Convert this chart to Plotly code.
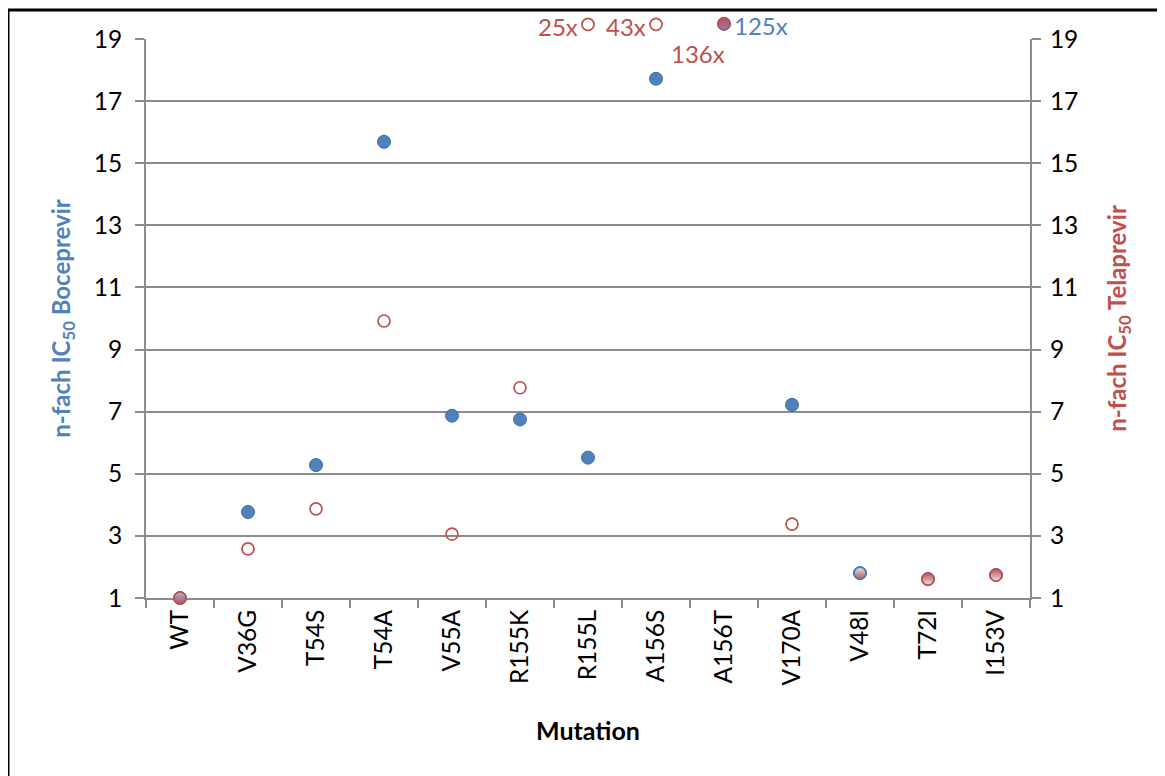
import plotly.graph_objects as go

mutations = ["WT", "V36G", "T54S", "T54A", "V55A", "R155K", "R155L",
             "A156S", "A156T", "V170A", "V48I", "T72I", "I153V"]
# plotted (display) fold-change values; values >19 are shown at the top edge
boceprevir = [1.0, 3.77, 5.28, 15.69, 6.87, 6.75, 5.52, 17.72, 19.49, 7.22, 1.80, 1.61, 1.74]
telaprevir = [1.0, 2.58, 3.87, 9.92, 3.06, 7.77, 19.47, 19.47, 19.49, 3.38, 1.80, 1.61, 1.74]
# labels for values beyond the axis maximum
tel_labels = {"R155L": "25x", "A156S": "43x", "A156T": "136x"}
boc_labels = {"A156T": "125x"}
y_ticks = [1, 3, 5, 7, 9, 11, 13, 15, 17, 19]
y_min, y_max = 1, 19

BLUE = "#4F81BD"
BLUE_LINE = "#3D6CA8"
RED = "#C0504D"
LIGHT = "#DCE6F2"
GRID = "#8C8C8C"
FONT = "Lato"
TICK_SIZE = 24.5

# figure geometry (page body has an 8px margin)
W, H = 1157, 768
ML, MR, MT, MB = 138, 135, 2, 178
axis_top = 31                      # pixel row of the y=19 gridline (figure coords)
plot_h = H - MT - MB
axis_h = (H - MB) - axis_top
dom_top = axis_h / plot_h
px_per_unit = axis_h / (y_max - y_min)
y3_max = y_min + plot_h / px_per_unit
plot_w = W - ML - MR

# per-point marker styling for the Telaprevir series (overlapping points)
tel_fill, tel_grad, tel_gcol, tel_line = [], [], [], []
for m in mutations:
    if m == "WT":
        tel_fill.append("#9DBCE0"); tel_grad.append("vertical"); tel_gcol.append(RED); tel_line.append(RED)
    elif m == "A156T":
        tel_fill.append(RED); tel_grad.append("vertical"); tel_gcol.append("#8A7FB8"); tel_line.append(RED)
    elif m == "V48I":
        tel_fill.append(LIGHT); tel_grad.append("vertical"); tel_gcol.append(RED); tel_line.append(BLUE)
    elif m in ("T72I", "I153V"):
        tel_fill.append(RED); tel_grad.append("vertical"); tel_gcol.append(LIGHT); tel_line.append(RED)
    else:
        tel_fill.append("rgba(255,255,255,0)"); tel_grad.append("none"); tel_gcol.append("white"); tel_line.append(RED)

fig = go.Figure()
# anchor traces (draw nothing) so the visible left/right value axes are rendered
fig.add_trace(go.Scatter(x=mutations, y=boceprevir, yaxis="y", mode="none",
                         hoverinfo="skip", showlegend=False))
fig.add_trace(go.Scatter(x=mutations, y=telaprevir, yaxis="y2", mode="none",
                         hoverinfo="skip", showlegend=False))
fig.add_trace(go.Scatter(
    x=mutations, y=boceprevir, mode="markers", name="Boceprevir", yaxis="y3",
    marker=dict(size=13, color=BLUE, line=dict(color=BLUE_LINE, width=1)),
    cliponaxis=False, showlegend=False))
fig.add_trace(go.Scatter(
    x=mutations, y=telaprevir, mode="markers", name="Telaprevir", yaxis="y3",
    marker=dict(size=12, color=tel_fill, line=dict(color=tel_line, width=1.7),
                gradient=dict(type=tel_grad, color=tel_gcol)),
    cliponaxis=False, showlegend=False))

annotations = []
for m, lab in tel_labels.items():
    i = mutations.index(m)
    if m == "A156T":
        annotations.append(dict(x=m, y=telaprevir[i], text=lab, showarrow=False, xref="x", yref="y3",
                                xanchor="center", yanchor="middle", xshift=-26, yshift=-30,
                                font=dict(color=RED, size=24, family=FONT)))
    else:
        annotations.append(dict(x=m, y=telaprevir[i], text=lab, showarrow=False, xref="x", yref="y3",
                                xanchor="right", yanchor="middle", xshift=-8, yshift=-2,
                                font=dict(color=RED, size=24, family=FONT)))
for m, lab in boc_labels.items():
    i = mutations.index(m)
    annotations.append(dict(x=m, y=boceprevir[i], text=lab, showarrow=False, xref="x", yref="y3",
                            xanchor="left", yanchor="middle", xshift=8, yshift=-2,
                            font=dict(color=BLUE, size=24, family=FONT)))

# outer black frame (top-left corner at figure pixel (0, 2))
fx0 = (0 - ML) / plot_w
fx1 = (W + 20 - ML) / plot_w
fy1 = (H - MB - 2) / plot_h
fy0 = -(MB + 20) / plot_h

fig.update_layout(
    width=W, height=H,
    margin=dict(l=ML, r=MR, t=MT, b=MB, pad=0, autoexpand=False),
    paper_bgcolor="white", plot_bgcolor="rgba(0,0,0,0)",
    font=dict(family=FONT, size=TICK_SIZE, color="black"),
    showlegend=False,
    xaxis=dict(
        type="category", tickangle=-90, tickson="boundaries", ticks="outside",
        ticklen=8, tickwidth=2, tickcolor=GRID, showline=True, linecolor=GRID, linewidth=2,
        showgrid=False, tickfont=dict(size=TICK_SIZE, family=FONT), anchor="y", automargin=False,
        title=dict(text="<b>Mutation</b>", font=dict(size=25, family=FONT), standoff=38),
        range=[-0.5, len(mutations) - 0.5]),
    yaxis=dict(
        domain=[0, dom_top], range=[y_min, y_max], tickvals=y_ticks, ticks="outside", ticklen=9,
        tickwidth=2, tickcolor=GRID, anchor="x", automargin=False,
        showline=True, linecolor=GRID, linewidth=2, showgrid=True, gridcolor=GRID, gridwidth=1.6,
        zeroline=False, tickfont=dict(size=TICK_SIZE, family=FONT), ticklabelstandoff=8,
        title=dict(text="<b>n-fach IC<sub>50</sub> Boceprevir</b>",
                   font=dict(size=24, family=FONT, color=BLUE), standoff=16)),
    yaxis2=dict(
        range=[y_min, y_max], tickvals=y_ticks, overlaying="y", side="right", ticks="outside", ticklen=9,
        tickwidth=2, tickcolor=GRID, showline=True, linecolor=GRID, linewidth=2, showgrid=False,
        zeroline=False, tickfont=dict(size=TICK_SIZE, family=FONT), ticklabelstandoff=4, anchor="x",
        automargin=False,
        title=dict(text="<b>n-fach IC<sub>50</sub> Telaprevir</b>",
                   font=dict(size=24, family=FONT, color=RED), standoff=32)),
    yaxis3=dict(domain=[0, 1], range=[y_min, y3_max], visible=False, anchor="x",
                showgrid=False, zeroline=False, fixedrange=True, automargin=False),
    annotations=annotations,
    shapes=[dict(type="rect", xref="paper", yref="paper", x0=fx0, y0=fy0, x1=fx1, y1=fy1,
                 line=dict(color="black", width=3), fillcolor="rgba(0,0,0,0)", layer="above")],
)

fig.write_html("out.html")
